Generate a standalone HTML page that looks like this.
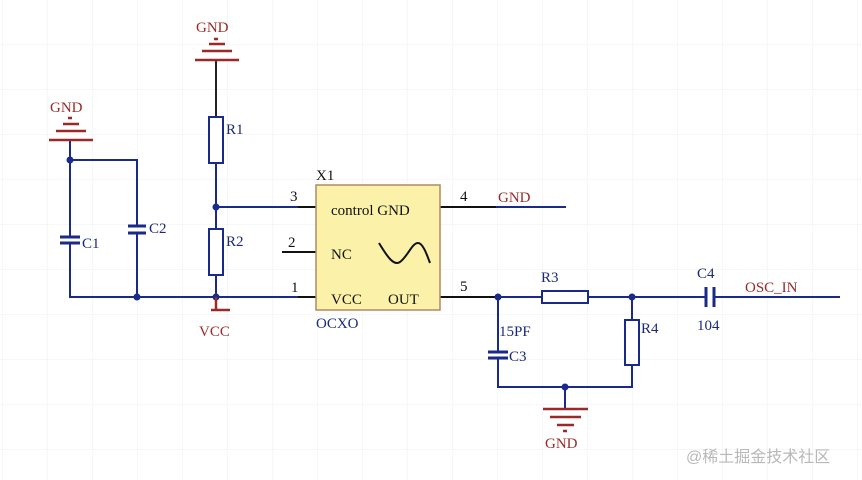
<!DOCTYPE html>
<html><head><meta charset="utf-8"><style>
html,body{margin:0;padding:0;background:#fff;}
svg{display:block}
text{font-family:"Liberation Serif",serif;}
</style></head><body>
<svg width="862" height="480" viewBox="0 0 862 480" xmlns="http://www.w3.org/2000/svg">
<defs><pattern id="g" width="45" height="45" patternUnits="userSpaceOnUse" x="3" y="0">
<path d="M45 0V45M0 45H45" stroke="#efefef" stroke-width="1" fill="none"/></pattern></defs>
<rect width="862" height="480" fill="#fff"/>
<rect width="862" height="480" fill="url(#g)"/>
<g stroke="#1a2a8a" stroke-width="2" fill="none">
<!-- left caps -->
<path d="M70 140V237M70 243V297H316M70 160H137V226M137 233V297"/>
<!-- R1 R2 column -->
<path d="M216 117V60" stroke="#222"/>
<path d="M216 163V229M216 275V310M216 207H316"/>
<rect x="209" y="117" width="14" height="46" fill="#fff"/>
<rect x="209" y="229" width="14" height="46" fill="#fff"/>
<!-- caps plates -->
<path d="M60 237H80M60 243H80M128 226H146M128 233H146" stroke-width="3"/>
<!-- right side -->
<path d="M496 207H566"/>
<path d="M496 297H542M588 297H706M714 297H840M498 297V352M498 358V387H632V365M632 297V320M565 387V409"/>
<rect x="542" y="291" width="46" height="12" fill="#fff"/>
<rect x="625" y="320" width="14" height="45" fill="#fff"/>
<path d="M706 287V307M714 287V307M488 352H508M488 358H508" stroke-width="3"/>
</g>
<!-- pin wires -->
<g stroke="#111" stroke-width="2">
<path d="M282 252H316M298 297H316M298 207H316M440 207H496M440 297H496"/>
</g>
<!-- nodes -->
<g fill="#1a2a8a">
<circle cx="70" cy="160" r="3.5"/><circle cx="137" cy="297" r="3.5"/><circle cx="216" cy="297" r="3.5"/><circle cx="216" cy="207" r="3.5"/>
<circle cx="498" cy="297" r="3.5"/><circle cx="632" cy="297" r="3.5"/><circle cx="565" cy="387" r="3.5"/>
</g>
<!-- GND symbols red -->
<g stroke="#9a2a2a" stroke-width="2.5">
<path d="M195 60H239M202 51H232M209 44H225M214 39H218"/>
<path d="M49 140H93M56 131H86M63 124H79M68 118H72"/>
<path d="M543 409H588M550 417H581M557 425H574M563 431H567"/>
<path d="M211 310H230M216 297V310"/>
</g>
<!-- OCXO box -->
<rect x="316" y="185" width="124" height="125" fill="#fbf1a8" stroke="#b08a60" stroke-width="1.5"/>
<path d="M379 243C388 258 394 266 400 262C408 256 412 243 418 243C423 243 427 255 430 263" stroke="#111" stroke-width="2" fill="none"/>
<g font-size="15" fill="#111">
<text x="331" y="215">control GND</text>
<text x="331" y="259">NC</text>
<text x="331" y="304">VCC</text>
<text x="388" y="304">OUT</text>
<text x="316" y="180">X1</text>
<text x="290" y="201">3</text>
<text x="288" y="247">2</text>
<text x="291" y="292">1</text>
<text x="460" y="201">4</text>
<text x="460" y="291">5</text>
</g>
<g font-size="15" fill="#1a2a7a">
<text x="316" y="328">OCXO</text>
<text x="226" y="134">R1</text>
<text x="226" y="246">R2</text>
<text x="82" y="248">C1</text>
<text x="149" y="233">C2</text>
<text x="541" y="282">R3</text>
<text x="641" y="333">R4</text>
<text x="697" y="278">C4</text>
<text x="697" y="330">104</text>
<text x="499" y="336">15PF</text>
<text x="509" y="361">C3</text>
</g>
<g font-size="15" fill="#9a2a2a">
<text x="196" y="32">GND</text>
<text x="50" y="112">GND</text>
<text x="498" y="202">GND</text>
<text x="745" y="292">OSC_IN</text>
<text x="545" y="448">GND</text>
<text x="199" y="336">VCC</text>
</g>
<text x="686" y="462" font-size="16" fill="#b8b8b8" style="font-family:'Liberation Sans','Noto Sans CJK SC',sans-serif">@稀土掘金技术社区</text>
</svg>
</body></html>
